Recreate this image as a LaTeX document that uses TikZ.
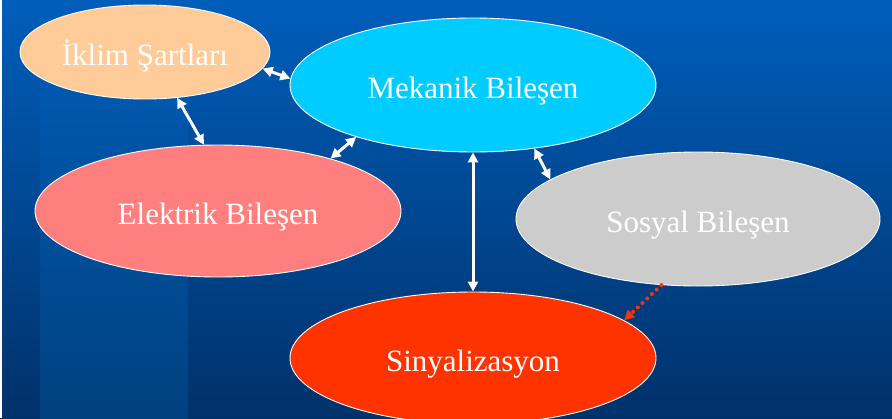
\documentclass[tikz,border=0pt]{standalone}
\usepackage{fontspec}
\setmainfont{Liberation Serif}
\usetikzlibrary{arrows.meta,shapes.geometric}
\definecolor{bgtop}{HTML}{005EBB}
\definecolor{bgbot}{HTML}{00316A}
\definecolor{bandbot}{HTML}{00417F}
\definecolor{iklimc}{HTML}{FFCC99}
\definecolor{mekc}{HTML}{00CCFF}
\definecolor{elekc}{HTML}{FF7F7F}
\definecolor{sosc}{HTML}{CCCCCC}
\definecolor{sinc}{HTML}{FF3300}

\begin{document}
\begin{tikzpicture}[x=1pt, y=-1pt, >={Triangle[length=10pt,width=10pt]},
  blob/.style={ellipse, draw=white, line width=0.9pt, inner sep=0pt, text=white,
    text height=26pt, text depth=0pt, font=\fontsize{31}{36}\selectfont},
  link/.style={<->, white, line width=3pt},
  dotlink/.style={->, sinc, line width=4pt, dash pattern=on 0pt off 6.5pt, line cap=round}]
  \useasboundingbox (0,0) rectangle (892,418);
  \shade[top color=bgtop, bottom color=bgbot] (0,0) rectangle (892,418);
  \shade[top color=bgtop, bottom color=bandbot] (40,0) rectangle (188,418);
  \fill[white] (0,0) rectangle (2,418);

  \node[blob, fill=iklimc, minimum width=250pt, minimum height=94pt] (ik) at (145,52) {İklim Şartları};
  \node[blob, fill=mekc, minimum width=366pt, minimum height=134pt] (mek) at (473,85) {Mekanik Bileşen};
  \node[blob, fill=elekc, minimum width=366pt, minimum height=132pt] (el) at (218,211) {Elektrik Bileşen};
  \node[blob, fill=sosc, minimum width=364pt, minimum height=134pt] (sos) at (698,219) {Sosyal Bileşen};
  \node[blob, fill=sinc, minimum width=366pt, minimum height=132pt] (sin) at (473,358) {Sinyalizasyon};

  \draw[link] (ik.-8) -- (mek.178);
  \draw[link] (ik.-55) -- (el.102);
  \draw[link] (mek.204) -- (el.25);
  \draw[link] (mek.-46) -- (sos.165);
  \draw[link] (mek) -- (sin);
  \draw[dotlink] (sos.241) -- (sin.14);
\end{tikzpicture}
\end{document}
